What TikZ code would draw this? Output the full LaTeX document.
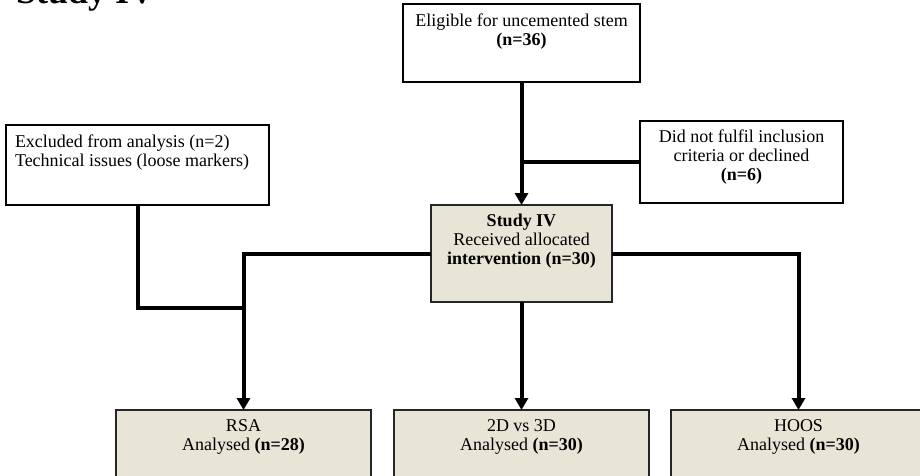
\documentclass[tikz,border=0pt]{standalone}
\usepackage{fontspec}
\setmainfont{Liberation Serif}
\usetikzlibrary{arrows.meta}
\definecolor{beige}{RGB}{232,228,214}
\begin{document}
\begin{tikzpicture}[x=1pt,y=-1pt,
  box/.style={rectangle, inner sep=0pt, outer sep=0pt, line width=1.6pt},
  wbox/.style={box, draw=black, fill=white},
  bbox/.style={box, draw=black!85, line width=1.3pt, fill=beige},
  txt/.style={inner sep=0pt, outer sep=0pt, font=\fontsize{18}{19}\selectfont, align=center, anchor=north},
  conn/.style={line width=4pt, line join=miter, draw=black},
  arr/.style={conn, -{Triangle[width=13pt,length=12pt]}}]
\useasboundingbox (0,0) rectangle (920,475);
\fill[white] (0,0) rectangle (920,475);
% title
\node[anchor=base west, inner sep=0pt, font=\fontsize{36}{38}\selectfont\bfseries] (title) at (16,3) {Study IV};
% boxes
\node[wbox, minimum width=237, minimum height=78] (elig) at (521.5,43) {};
\node[txt] (eligt) at (521.5,14) {Eligible for uncemented stem\\\textbf{(n=36)}};
\node[wbox, minimum width=263, minimum height=80] (excl) at (137.5,165) {};
\node[txt, anchor=north west, align=left] (exclt) at (15,135) {Excluded from analysis (n=2)\\Technical issues (loose markers)};
\node[wbox, minimum width=203, minimum height=82] (didnot) at (741.5,162) {};
\node[txt] (didnott) at (741.5,130) {Did not fulfil inclusion\\criteria or declined\\\textbf{(n=6)}};
\node[bbox, minimum width=181, minimum height=97] (study) at (521.5,253.5) {};
\node[txt] (studyt) at (521.5,214) {\textbf{Study IV}\\Received allocated\\\textbf{intervention (n=30)}};
\node[bbox, minimum width=255, minimum height=80] (rsa) at (243.5,450) {};
\node[txt] (rsat) at (243.5,420) {RSA\\Analysed \textbf{(n=28)}};
\node[bbox, minimum width=255, minimum height=80] (twod) at (521.5,450) {};
\node[txt] (twodt) at (521.5,420) {2D vs 3D\\Analysed \textbf{(n=30)}};
\node[bbox, minimum width=255, minimum height=80] (hoos) at (798.5,450) {};
\node[txt] (hoost) at (798.5,420) {HOOS\\Analysed \textbf{(n=30)}};
% connectors
\coordinate (j1) at (elig.south |- didnot.west);
\coordinate (j2) at (rsa.north |- 0,308);
\draw[arr] (elig.south) -- (study.north);
\draw[conn] (j1) -- (didnot.west);
\draw[arr] (study.west) -| (rsa.north);
\draw[conn] (excl.south) |- (j2);
\draw[arr] (study.east) -| (hoos.north);
\draw[arr] (study.south) -- (twod.north);
\end{tikzpicture}
\end{document}
